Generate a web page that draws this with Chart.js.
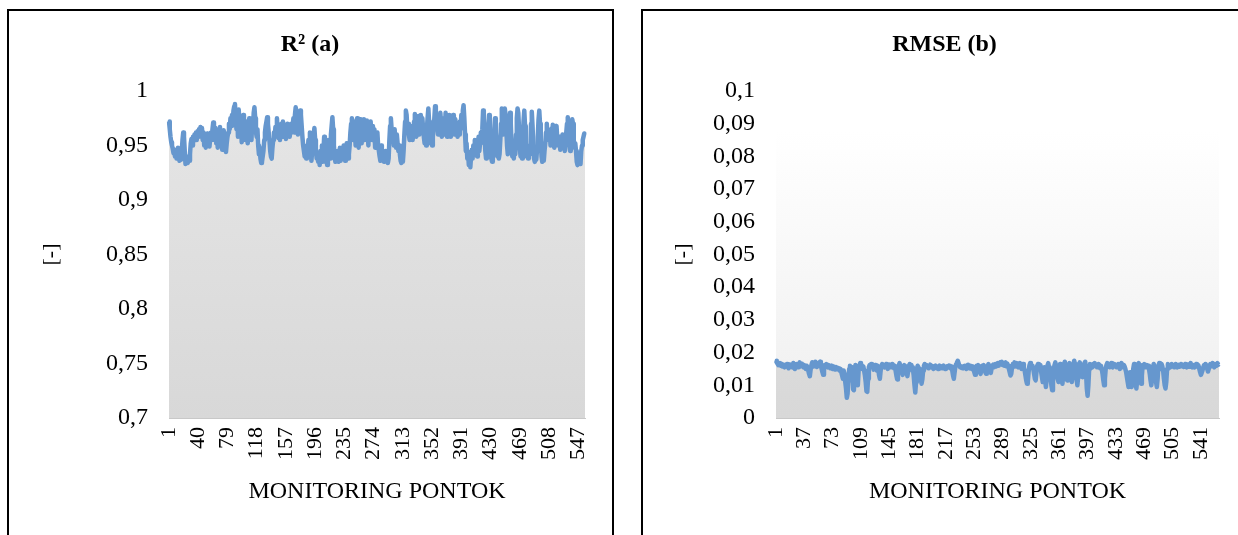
<!DOCTYPE html>
<html>
<head>
<meta charset="utf-8">
<script src="https://cdn.jsdelivr.net/npm/chart.js@4.4.0/dist/chart.umd.min.js"></script>
<style>
html, body { margin: 0; padding: 0; background: #fff; width: 1238px; height: 535px; overflow: hidden; position: relative; }
.panel { position: absolute; top: 9px; height: 540px; border: 2px solid #000; box-sizing: border-box; }
#p1 { left: 7px; width: 607px; }
#p2 { left: 641px; width: 612px; }
canvas { position: absolute; top: 0; }
#c1 { left: 0; }
#c2 { left: 641px; }
</style>
</head>
<body>
<div class="panel" id="p1"></div>
<div class="panel" id="p2"></div>
<canvas id="c1" width="620" height="535" style="width:620px;height:535px"></canvas>
<canvas id="c2" width="607" height="535" style="width:607px;height:535px"></canvas>
<script>
// ---- data ----
const titleR2 = 'R² (a)';
const titleRMSE = 'RMSE (b)';
const xAxisTitle = 'MONITORING PONTOK';
const yAxisTitle = '[-]';
const xLabelStepR2 = 39;
const xLabelStepRMSE = 36;

const r2Values = [
0.972,0.965,0.958,0.953,0.950,
0.947,0.943,0.946,0.940,0.944,0.938,0.942,0.948,0.940,0.936,0.941,0.937,0.945,
0.955,0.962,0.958,0.945,0.933,
0.935,0.938,0.934,0.940,0.936,0.942,
0.952,0.956,0.950,0.958,0.954,0.960,0.957,0.962,0.955,0.963,0.958,0.965,0.960,0.967,0.962,0.966,
0.955,0.962,0.950,0.958,0.948,0.956,0.961,0.952,0.959,0.949,0.957,0.962,0.955,
0.965,0.971,0.962,
0.955,0.966,0.952,0.960,0.948,0.962,0.957,0.967,0.953,0.961,0.946,0.958,0.964,0.950,0.956,0.944,0.952,0.958,
0.962,0.970,0.965,0.975,0.968,0.978,0.972,0.982,0.986,0.988,
0.975,0.965,0.978,0.958,0.983,0.970,0.960,0.975,0.953,0.968,0.978,0.962,0.970,0.955,0.972,0.965,0.952,0.960,0.975,0.958,0.968,0.955,0.972,0.964,0.980,0.985,
0.975,0.962,0.958,0.965,0.950,0.942,0.948,0.938,0.934,
0.935,0.940,0.945,0.955,0.962,0.968,0.972,
0.976,0.970,0.962,0.955,0.945,0.940,0.938,
0.948,0.955,0.962,0.958,0.967,0.960,0.975,0.963,0.957,0.968,0.955,0.963,0.970,0.958,0.972,0.965,0.960,0.968,0.956,0.962,0.970,0.960,0.966,0.958,0.964,0.970,0.962,
0.968,0.975,0.962,0.978,0.985,0.980,0.970,0.960,0.975,0.965,0.982,0.978,0.968,0.958,0.950,0.945,
0.940,0.945,0.938,0.950,0.942,0.955,0.940,0.962,0.948,0.936,0.945,0.952,0.960,0.966,0.955,0.945,0.938,0.942,
0.935,0.942,0.932,0.945,0.938,0.950,0.935,0.944,0.958,0.940,0.935,0.948,0.932,0.940,0.955,0.945,0.938,0.960,0.968,0.976,0.965,0.950,0.940,
0.935,0.942,0.938,0.945,0.935,0.940,0.948,0.936,0.942,0.938,0.945,0.950,0.940,0.936,0.944,0.952,0.946,0.938,0.942,
0.950,0.962,0.970,0.975,0.965,0.955,0.972,0.962,0.950,0.968,0.975,0.958,0.948,0.965,0.974,0.960,0.952,0.970,0.962,0.974,0.955,0.968,0.960,0.973,0.965,0.950,0.970,0.958,0.972,0.962,0.955,0.968,0.958,0.965,0.948,0.960,0.955,0.962,0.950,0.945,0.940,0.936,
0.950,0.942,0.936,0.940,0.935,0.938,0.945,0.936,0.940,0.934,0.938,
0.955,0.968,0.975,0.965,0.955,
0.962,0.950,0.965,0.955,0.948,0.960,0.952,0.945,0.950,
0.942,0.936,0.934,0.940,0.935,0.945,
0.960,0.972,0.982,0.978,0.965,0.970,0.960,
0.955,0.965,0.958,0.968,0.955,0.962,
0.972,0.979,0.968,0.958,0.975,0.965,0.977,0.960,0.970,0.978,0.962,0.975,0.966,0.958,
0.952,0.960,0.950,0.965,0.975,0.984,0.972,0.960,
0.952,0.960,0.950,0.958,0.965,
0.975,0.986,0.978,0.965,0.972,0.960,0.975,0.968,
0.980,0.970,0.958,0.975,0.962,0.970,0.960,
0.980,0.968,0.958,0.972,0.962,0.978,0.965,0.958,0.970,0.962,0.978,0.968,0.960,0.974,0.963,0.970,0.958,0.966,
0.960,0.972,0.965,0.978,0.970,0.982,0.987,
0.975,0.960,0.945,0.952,0.938,0.944,0.932,0.936,0.930,
0.940,0.946,0.938,0.950,0.942,0.955,0.945,0.950,0.940,0.948,0.958,0.945,0.952,0.962,0.955,
0.965,0.982,0.975,0.958,
0.945,0.938,0.942,0.950,
0.968,0.978,0.960,
0.948,0.938,0.935,0.942,0.950,
0.965,0.975,0.962,
0.950,0.940,0.945,0.938,0.942,0.955,
0.970,0.984,0.975,0.960,0.972,0.984,0.978,0.965,0.950,0.942,0.955,0.968,0.980,0.970,
0.952,0.940,0.945,0.938,0.950,0.942,0.960,
0.975,0.984,0.980,0.965,
0.948,0.940,0.945,0.938,0.955,
0.972,0.982,0.968,
0.952,0.940,0.946,0.938,0.944,0.950,0.942,
0.970,0.981,0.968,
0.950,0.938,0.935,0.944,0.937,0.946,0.958,
0.974,0.982,0.970,
0.955,0.940,0.935,0.942,0.936,0.945,0.952,
0.962,0.970,0.958,0.965,0.955,0.962,0.950,0.958,0.966,0.969,0.960,0.948,0.955,0.962,0.968,0.956,0.950,
0.952,0.958,0.946,0.955,0.948,0.960,0.950,0.956,0.945,0.952,
0.962,0.970,0.976,0.968,0.955,
0.945,0.958,0.965,0.974,0.970,0.955,0.948,0.952,
0.945,0.935,0.932,0.940,0.934,0.938,0.933,0.945,0.950,0.955,0.958,0.961,0.960
];

const rmseValues = [
0.0175,0.0170,0.0166,0.0162,0.0168,0.0164,0.0160,0.0166,0.0158,0.0163,
0.0160,0.0155,0.0162,0.0158,0.0165,0.0160,0.0152,0.0158,0.0163,0.0157,
0.0162,0.0155,0.0168,0.0160,0.0150,0.0158,0.0165,0.0160,0.0155,0.0162,
0.0170,0.0165,0.0158,0.0166,0.0160,0.0155,0.0162,0.0158,0.0150,0.0160,
0.0155,0.0145,0.0135,0.0128,0.0148,0.0162,0.0170,0.0165,0.0158,0.0168,
0.0172,0.0163,0.0156,0.0165,0.0160,0.0170,0.0172,0.0160,0.0150,0.0140,
0.0132,0.0150,0.0162,0.0158,0.0165,0.0160,0.0155,0.0162,0.0158,0.0152,
0.0160,0.0155,0.0150,0.0158,0.0153,0.0148,0.0156,0.0150,0.0154,0.0148,
0.0152,0.0145,0.0150,0.0140,0.0130,0.0120,0.0145,0.0135,0.0110,0.0090,
0.0062,0.0075,0.0120,0.0150,0.0160,0.0140,0.0115,0.0155,0.0088,0.0085,
0.0130,0.0162,0.0150,0.0120,0.0100,0.0145,0.0160,0.0168,0.0155,0.0162,
0.0150,0.0158,0.0145,0.0130,0.0110,0.0082,0.0080,0.0120,0.0155,0.0162,
0.0158,0.0165,0.0155,0.0160,0.0148,0.0158,0.0162,0.0155,0.0145,0.0160,
0.0150,0.0130,0.0120,0.0145,0.0160,0.0165,0.0158,0.0162,0.0155,0.0160,
0.0165,0.0158,0.0150,0.0162,0.0157,0.0163,0.0155,0.0160,0.0165,0.0158,
0.0152,0.0160,0.0145,0.0130,0.0118,0.0140,0.0160,0.0168,0.0160,0.0155,
0.0140,0.0132,0.0155,0.0162,0.0158,0.0150,0.0140,0.0128,0.0145,0.0160,
0.0165,0.0158,0.0162,0.0155,0.0150,0.0130,0.0100,0.0078,0.0110,0.0150,
0.0160,0.0155,0.0150,0.0140,0.0120,0.0105,0.0118,0.0145,0.0160,0.0165,
0.0158,0.0162,0.0155,0.0160,0.0152,0.0158,0.0163,0.0155,0.0160,0.0156,
0.0150,0.0158,0.0155,0.0160,0.0153,0.0157,0.0150,0.0155,0.0160,0.0154,
0.0158,0.0152,0.0156,0.0160,0.0155,0.0150,0.0157,0.0153,0.0158,0.0155,
0.0160,0.0156,0.0152,0.0158,0.0145,0.0130,0.0120,0.0140,0.0158,0.0165,
0.0170,0.0175,0.0168,0.0160,0.0155,0.0158,0.0153,0.0157,0.0152,0.0156,
0.0160,0.0155,0.0150,0.0158,0.0163,0.0157,0.0152,0.0160,0.0155,0.0150,
0.0158,0.0148,0.0140,0.0132,0.0145,0.0160,0.0155,0.0162,0.0150,0.0142,
0.0135,0.0150,0.0160,0.0155,0.0162,0.0150,0.0140,0.0135,0.0150,0.0158,
0.0165,0.0158,0.0145,0.0138,0.0152,0.0160,0.0163,0.0155,0.0160,0.0165,
0.0158,0.0163,0.0168,0.0160,0.0165,
0.0170,0.0165,0.0172,0.0162,0.0168,0.0160,0.0165,0.0170,0.0158,0.0166,
0.0160,0.0150,0.0140,0.0130,0.0135,0.0155,0.0165,0.0160,0.0170,0.0165,
0.0158,0.0168,0.0160,0.0155,0.0162,0.0168,0.0158,0.0150,0.0160,0.0165,
0.0155,0.0145,0.0130,0.0115,0.0105,0.0110,0.0140,0.0160,0.0168,0.0162,
0.0155,0.0160,0.0150,0.0135,0.0120,0.0115,0.0140,0.0160,0.0165,0.0158,
0.0150,0.0162,0.0140,0.0125,0.0110,0.0130,0.0155,0.0120,0.0095,0.0120,
0.0160,0.0168,0.0155,0.0140,0.0120,0.0100,0.0085,0.0110,0.0150,0.0162,
0.0170,0.0160,0.0145,0.0120,0.0110,0.0140,0.0165,0.0150,0.0125,0.0105,
0.0130,0.0160,0.0172,0.0160,0.0140,0.0115,0.0130,0.0158,0.0168,0.0155,
0.0135,0.0110,0.0130,0.0162,0.0175,0.0165,0.0150,0.0120,0.0100,0.0125,
0.0160,0.0170,0.0162,0.0155,0.0145,0.0125,0.0150,0.0168,0.0172,0.0140,
0.0090,0.0068,0.0100,0.0150,0.0165,0.0158,0.0162,0.0155,0.0165,0.0160,
0.0168,0.0158,0.0162,0.0155,0.0160,0.0165,0.0158,0.0152,0.0160,0.0150,
0.0135,0.0115,0.0100,0.0120,0.0150,0.0162,0.0168,0.0158,0.0165,0.0155,
0.0160,0.0168,0.0162,0.0155,0.0160,0.0165,0.0158,0.0163,0.0155,0.0160,
0.0165,0.0158,0.0150,0.0162,0.0168,0.0160,0.0155,0.0162,0.0158,0.0150,
0.0140,0.0125,0.0110,0.0095,0.0105,0.0140,0.0115,0.0095,0.0110,0.0150,
0.0165,0.0140,0.0110,0.0090,0.0115,0.0160,0.0168,0.0150,0.0120,0.0105,
0.0130,0.0162,0.0158,0.0165,0.0155,0.0160,0.0162,0.0155,0.0160,0.0150,
0.0135,0.0115,0.0100,0.0120,0.0155,0.0165,0.0158,0.0140,0.0110,0.0095,
0.0120,0.0160,0.0168,0.0160,0.0150,0.0165,0.0158,0.0145,0.0120,0.0100,
0.0090,0.0110,0.0150,0.0165,0.0158,0.0162,0.0155,0.0160,0.0165,0.0158,
0.0162,0.0155,0.0160,0.0165,0.0158,0.0155,0.0160,0.0163,0.0157,0.0160,
0.0165,0.0158,0.0162,0.0156,0.0160,0.0165,0.0158,0.0155,0.0160,0.0163,
0.0157,0.0162,0.0168,0.0160,0.0155,0.0158,0.0162,0.0155,0.0160,0.0165,
0.0158,0.0163,0.0160,0.0150,0.0140,0.0132,0.0138,0.0145,0.0155,0.0162,
0.0160,0.0165,0.0158,0.0150,0.0142,0.0150,0.0160,0.0165,0.0158,0.0162,
0.0168,0.0160,0.0155,0.0162,0.0165,0.0160,0.0168,0.0163,0.0165
];

// category labels: monitoring point numbers
const categoriesR2 = r2Values.map((_, i) => String(i + 1));
const categoriesRMSE = rmseValues.map((_, i) => String(i + 1));

// ---- rendering ----
const FONT = "'Liberation Serif', 'Times New Roman', serif";
const LINE_COLOR = 'rgb(102,151,206)';

function fillGradient(ctx) {
  const chart = ctx.chart;
  const a = chart.chartArea;
  if (!a) return '#dddddd';
  const g = chart.ctx.createLinearGradient(0, a.top, 0, a.bottom);
  g.addColorStop(0, '#e6e6e6');
  g.addColorStop(1, '#d8d8d8');
  return g;
}

const bgPlugin = {
  id: 'plotBg',
  beforeDatasetsDraw(chart, args, opts) {
    if (opts.top === undefined || opts.top === null) return;
    const { ctx, chartArea: a, scales: { y } } = chart;
    const top = y.getPixelForValue(opts.top);
    const g = ctx.createLinearGradient(0, top, 0, a.bottom);
    g.addColorStop(0, '#ffffff');
    g.addColorStop(1, '#efefef');
    ctx.save();
    ctx.fillStyle = g;
    ctx.fillRect(a.left, top, a.right - a.left, a.bottom - top);
    ctx.restore();
  }
};

function fmt(v) {
  const r = Math.round(v * 1000) / 1000;
  return String(r).replace('.', ',');
}

function makeChart(id, cfg) {
  return new Chart(document.getElementById(id), {
    type: 'line',
    data: {
      labels: cfg.labels,
      datasets: [{
        data: cfg.values,
        borderColor: LINE_COLOR,
        borderWidth: 4.5,
        pointRadius: 0,
        tension: 0,
        borderJoinStyle: 'round',
        fill: 'start',
        backgroundColor: fillGradient
      }]
    },
    options: {
      responsive: false,
      animation: false,
      layout: { padding: { left: cfg.sidePad, right: cfg.sidePad, top: 0, bottom: 0 } },
      plugins: {
        legend: { display: false },
        tooltip: { enabled: false },
        plotBg: { top: cfg.bgTop },
        title: {
          display: true,
          text: cfg.title,
          color: '#000',
          font: { family: FONT, size: 24, weight: 'bold' },
          padding: { top: 30.6, bottom: 31.6 }
        }
      },
      scales: {
        x: {
          type: 'category',
          grid: { display: false, drawTicks: false },
          border: { display: true, color: '#c8c8c8', width: 1 },
          ticks: {
            autoSkip: false,
            minRotation: 90,
            maxRotation: 90,
            padding: 9,
            color: '#000',
            font: { family: FONT, size: 22 },
            callback: function (val, idx) {
              return idx % cfg.step === 0 ? cfg.labels[idx] : null;
            }
          },
          title: {
            display: true,
            text: xAxisTitle,
            color: '#000',
            font: { family: FONT, size: 24 },
            padding: { top: 0, bottom: 29 }
          },
          afterFit: (s) => { s.height = 117; }
        },
        y: {
          min: cfg.min,
          max: cfg.max,
          grid: { display: false, drawTicks: false },
          border: { display: false },
          ticks: {
            stepSize: cfg.stepSize,
            padding: 21,
            color: '#000',
            font: { family: FONT, size: 24 },
            callback: (v) => fmt(v)
          },
          title: {
            display: true,
            text: yAxisTitle,
            color: '#000',
            font: { family: FONT, size: 22 },
            padding: { top: cfg.yTitlePad, bottom: 0 }
          },
          afterFit: (s) => { s.width = cfg.yWidth; }
        }
      }
    },
    plugins: [bgPlugin]
  });
}

makeChart('c1', {
  labels: categoriesR2, values: r2Values, title: titleR2, step: xLabelStepR2,
  min: 0.7, max: 1, stepSize: 0.05, sidePad: 35, yWidth: 134, yTitlePad: 3, bgTop: null
});
makeChart('c2', {
  labels: categoriesRMSE, values: rmseValues, title: titleRMSE, step: xLabelStepRMSE,
  min: 0, max: 0.1, stepSize: 0.01, sidePad: 29, yWidth: 106, yTitlePad: 0, bgTop: 0.0876
});
</script>
</body>
</html>
